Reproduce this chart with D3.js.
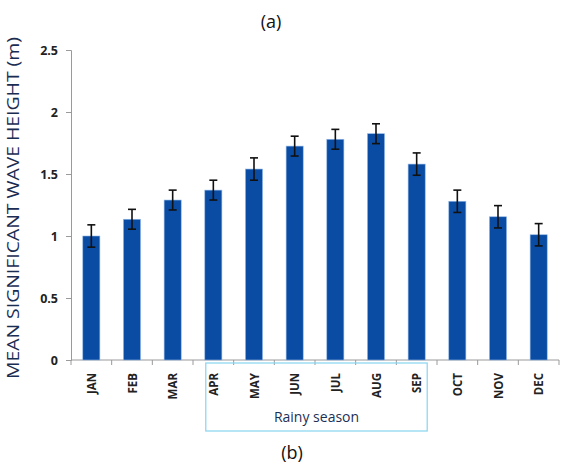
<!DOCTYPE html>
<html>
<head>
<meta charset="utf-8">
<script src="https://cdn.jsdelivr.net/npm/d3@7"></script>
<style>
  body { margin: 0; background: #fff; }
  svg { display: block; }
  .tick text { font-family: "Open Sans", "DejaVu Sans", sans-serif; font-weight: bold; }
</style>
</head>
<body>
<div id="container"></div>
<script>
var months = ["JAN", "FEB", "MAR", "APR", "MAY", "JUN", "JUL", "AUG", "SEP", "OCT", "NOV", "DEC"];
var heights = [1.0, 1.135, 1.29, 1.37, 1.54, 1.725, 1.78, 1.825, 1.58, 1.28, 1.155, 1.01];
var errors = [0.09, 0.08, 0.08, 0.08, 0.09, 0.08, 0.08, 0.08, 0.09, 0.09, 0.09, 0.09];
var yTicks = [0, 0.5, 1, 1.5, 2, 2.5];
var rainy = ["APR", "MAY", "JUN", "JUL", "AUG", "SEP"];

var W = 561, H = 467;
var margin = { left: 71, right: 2, top: 50, bottom: 107 };

var svg = d3.select("#container")
  .append("svg")
  .attr("width", W)
  .attr("height", H);

var x = d3.scaleBand()
  .domain(months)
  .range([margin.left, W - margin.right])
  .paddingInner(0.58)
  .paddingOuter(0.29);

var y = d3.scaleLinear()
  .domain([0, 2.5])
  .range([H - margin.bottom, margin.top]);

// y axis
var yAxis = svg.append("g")
  .attr("transform", "translate(" + margin.left + ",0)")
  .call(d3.axisLeft(y).tickValues(yTicks).tickSize(5).tickPadding(8)
    .tickFormat(function(d) { return d; }));
yAxis.selectAll("path, line").attr("stroke", "#9a9a9a");
yAxis.selectAll("text").attr("font-size", 12.5).attr("fill", "#222");

// x axis with ticks between categories
var xAxis = svg.append("g")
  .attr("transform", "translate(0," + y(0) + ")");
xAxis.append("line")
  .attr("x1", margin.left).attr("x2", W - margin.right)
  .attr("stroke", "#9a9a9a");
var step = x.step();
xAxis.selectAll(".sep")
  .data(d3.range(months.length + 1))
  .enter().append("line")
    .attr("x1", function(i) { return margin.left + i * step; })
    .attr("x2", function(i) { return margin.left + i * step; })
    .attr("y1", 0).attr("y2", 5)
    .attr("stroke", "#9a9a9a");
xAxis.selectAll(".mlabel")
  .data(months)
  .enter().append("text")
    .attr("font-family", "'Open Sans', 'DejaVu Sans', sans-serif")
    .attr("font-weight", "bold")
    .attr("font-size", 11.5)
    .attr("fill", "#222")
    .attr("text-anchor", "end")
    .attr("transform", function(d) {
      return "translate(" + (x(d) + x.bandwidth() / 2 + 4.5) + ",13) rotate(-90)";
    })
    .text(function(d) { return d; });

// bars
svg.selectAll(".bar")
  .data(months)
  .enter().append("rect")
    .attr("x", function(d) { return x(d); })
    .attr("y", function(d, i) { return y(heights[i]); })
    .attr("width", x.bandwidth())
    .attr("height", function(d, i) { return y(0) - y(heights[i]); })
    .attr("fill", "#0a4ca3")
    .attr("stroke", "#8fb6e6")
    .attr("stroke-width", 0.6);

// error bars
var eb = svg.selectAll(".err")
  .data(months)
  .enter().append("g")
    .attr("stroke", "#111")
    .attr("stroke-width", 1.6);
eb.append("line")
  .attr("x1", function(d) { return x(d) + x.bandwidth() / 2; })
  .attr("x2", function(d) { return x(d) + x.bandwidth() / 2; })
  .attr("y1", function(d, i) { return y(heights[i] + errors[i]); })
  .attr("y2", function(d, i) { return y(heights[i] - errors[i]); });
[1, -1].forEach(function(s) {
  eb.append("line")
    .attr("x1", function(d) { return x(d) + x.bandwidth() / 2 - 4; })
    .attr("x2", function(d) { return x(d) + x.bandwidth() / 2 + 4; })
    .attr("y1", function(d, i) { return y(heights[i] + s * errors[i]); })
    .attr("y2", function(d, i) { return y(heights[i] + s * errors[i]); });
});

// rainy season box
var bx0 = x(rainy[0]) + 1;
var bx1 = x(rainy[rainy.length - 1]) + x.bandwidth() + 2;
svg.append("rect")
  .attr("x", bx0).attr("y", y(0) + 3)
  .attr("width", bx1 - bx0).attr("height", 68)
  .attr("fill", "none")
  .attr("stroke", "#86d4f0")
  .attr("stroke-width", 1.2);
svg.append("text")
  .attr("x", (bx0 + bx1) / 2).attr("y", y(0) + 62)
  .attr("text-anchor", "middle")
  .attr("font-family", "'Open Sans', sans-serif")
  .attr("font-size", 14)
  .attr("fill", "#1c2f55")
  .text("Rainy season");

// y label
svg.append("text")
  .attr("transform", "translate(19," + 208 + ") rotate(-90)")
  .attr("text-anchor", "middle")
  .attr("font-family", "'Open Sans', sans-serif")
  .attr("font-size", 17)
  .attr("textLength", 342)
  .attr("lengthAdjust", "spacingAndGlyphs")
  .attr("fill", "#1a2c52")
  .text("MEAN SIGNIFICANT WAVE HEIGHT (m)");

// panel captions
svg.append("text")
  .attr("x", 271).attr("y", 28)
  .attr("text-anchor", "middle")
  .attr("font-family", "'Open Sans', sans-serif")
  .attr("font-size", 18)
  .attr("fill", "#111")
  .text("(a)");
svg.append("text")
  .attr("x", 292).attr("y", 459)
  .attr("text-anchor", "middle")
  .attr("font-family", "'Open Sans', sans-serif")
  .attr("font-size", 18)
  .attr("fill", "#111")
  .text("(b)");
</script>
</body>
</html>
